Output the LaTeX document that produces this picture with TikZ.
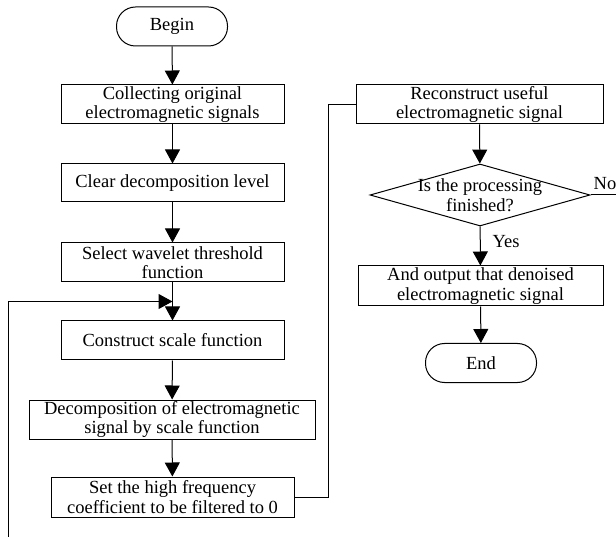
\documentclass[tikz,border=0pt]{standalone}
\usepackage{fontspec}
\setmainfont{Liberation Serif}
\usetikzlibrary{arrows.meta, shapes.geometric}

\tikzset{
  proc/.style={draw, rectangle, minimum height=39pt, inner sep=1pt, align=center},
  term/.style={draw, rectangle, rounded corners=19pt, minimum width=111pt, minimum height=39pt},
  decide/.style={draw, diamond, aspect=3.55, minimum width=220pt, minimum height=62pt, inner sep=-8pt, align=center},
  arr/.style={-{Triangle[length=14pt, width=15pt]}}
}

\begin{document}
\begin{tikzpicture}[x=1pt, y=-1pt, line width=1pt,
    font=\fontsize{18.5}{19.5}\selectfont]
  \useasboundingbox (0,0) rectangle (616,537);

  % left column
  \node[term] (begin) at (172,26.5) {Begin};
  \node[proc, minimum width=223pt] (collect) at (172.5,104.5) {Collecting original\\electromagnetic signals};
  \node[proc, minimum width=223pt, minimum height=38pt] (clear) at (172.5,183) {Clear decomposition level};
  \node[proc, minimum width=223pt] (select) at (172.5,262.5) {Select wavelet threshold\\function};
  \node[proc, minimum width=223pt] (construct) at (172.5,340.5) {Construct scale function};
  \node[proc, minimum width=286pt] (decomp) at (172,419.5) {Decomposition of electromagnetic\\signal by scale function};
  \node[proc, minimum width=243pt, minimum height=40pt] (sethigh) at (172.5,497) {Set the high frequency\\coefficient to be filtered to 0};

  % right column
  \node[proc, minimum width=247pt] (recon) at (479.5,104.5) {Reconstruct useful\\electromagnetic signal};
  \node[decide] (check) at (480,195) {Is the processing\\finished?};
  \node[proc, minimum width=245pt, minimum height=40pt] (output) at (480.5,286) {And output that denoised\\electromagnetic signal};
  \node[term] (end) at (481,363) {End};

  \coordinate (join) at (172.5,301.5);
  \coordinate (loopbot) at (8,537);
  \coordinate (noend) at (616,195);

  \draw[arr] (begin) -- (collect);
  \draw[arr] (collect) -- (clear);
  \draw[arr] (clear) -- (select);
  \draw[arr] (select) -- (construct);
  \draw[arr] (loopbot) |- (join);
  \draw[arr] (construct) -- (decomp);
  \draw[arr] (decomp) -- (sethigh);
  \draw (sethigh.east) -- ++(33.5,0) |- (recon.west);
  \draw[arr] (recon) -- (check);
  \draw[arr] (check) -- (output);
  \node (yes) at (506,242) {Yes};
  \draw (check.east) -- (noend);
  \node (no) at (605,184) {No};
  \draw[arr] (output) -- (end);
\end{tikzpicture}
\end{document}
